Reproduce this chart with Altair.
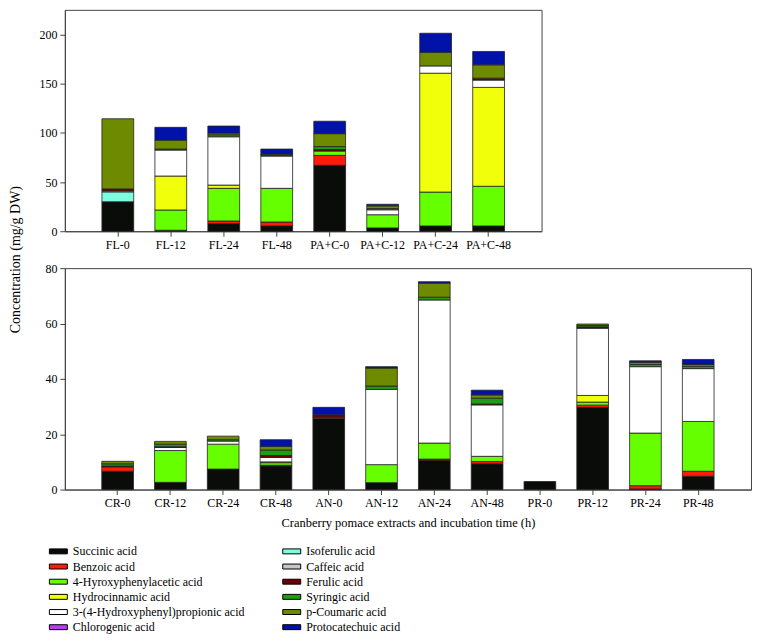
import altair as alt
import pandas as pd

acids = [
    "Succinic acid", "Benzoic acid", "4-Hyroxyphenylacetic acid", "Hydrocinnamic acid",
    "3-(4-Hydroxyphenyl)propionic acid", "Chlorogenic acid", "Isoferulic acid",
    "Caffeic acid", "Ferulic acid", "Syringic acid", "p-Coumaric acid", "Protocatechuic acid",
]
colors = ["#0a0c0a", "#ff1a0a", "#66ff00", "#f2ff0a", "#ffffff", "#b640f0",
          "#7dfce0", "#c3c8c8", "#6e0000", "#1e9e14", "#6e8a00", "#0012a8"]

top_samples = ["FL-0", "FL-12", "FL-24", "FL-48", "PA+C-0", "PA+C-12", "PA+C-24", "PA+C-48"]
# values per acid (stack order), one per top sample
top_succinic = [30, 1, 7.7, 5.4, 67, 3.4, 5.4, 5.4]
top_benzoic = [0, 0, 2.7, 4, 10.1, 0, 0, 0]
top_hpa = [0, 20.6, 33.2, 34.2, 4.4, 13.4, 34.4, 40.3]
top_hydro = [0, 34.5, 3.3, 0, 0, 0, 120.8, 100.5]
top_hpp = [0, 26.4, 49.1, 32.8, 0, 5.0, 7.4, 7.4]
top_chloro = [0, 0, 0, 0, 0, 0, 0, 0]
top_isoferulic = [10, 0, 0, 0, 0, 0, 0, 0]
top_caffeic = [1, 0, 0, 0, 0, 0, 0, 0]
top_ferulic = [2, 0, 0, 0, 1.5, 0, 0, 2]
top_syringic = [0, 1, 2, 1, 3, 1.2, 0, 0]
top_coumaric = [71.3, 9.1, 1.8, 1, 13.2, 2.8, 13.9, 13.5]
top_proto = [0, 13, 7.1, 5.1, 12.6, 1.6, 19.3, 13.6]

bottom_samples = ["CR-0", "CR-12", "CR-24", "CR-48", "AN-0", "AN-12", "AN-24", "AN-48",
                  "PR-0", "PR-12", "PR-24", "PR-48"]
bot_succinic = [6.6, 2.6, 7.4, 8.5, 25.8, 2.5, 10.5, 9.3, 2.9, 29.7, 0.2, 4.8]
bot_benzoic = [1.6, 0, 0, 0.3, 0.4, 0, 0.5, 0.8, 0, 0.8, 1.2, 1.8]
bot_hpa = [0, 11.5, 9.0, 0.9, 0, 6.5, 5.8, 1.9, 0, 1.1, 19.0, 18.0]
bot_hydro = [0, 0, 0, 0.3, 0, 0, 0, 0, 0, 2.4, 0, 0]
bot_hpp = [0, 1.1, 1.1, 1.6, 0, 27.2, 51.7, 18.6, 0, 24.3, 24.0, 19.1]
bot_chloro = [0] * 12
bot_isoferulic = [0] * 12
bot_caffeic = [0] * 12
bot_ferulic = [0.3, 0.3, 0, 0.7, 0.8, 0, 0, 0.3, 0, 0.5, 0, 0]
bot_syringic = [0.8, 0.9, 0.5, 2.0, 0, 1.2, 1.0, 2.1, 0, 0.5, 0.8, 0.8]
bot_coumaric = [0.9, 1.0, 1.3, 1.3, 0, 6.5, 5.1, 1.2, 0, 0.5, 0.8, 0.7]
bot_proto = [0, 0, 0, 2.4, 2.7, 0.5, 0.5, 1.7, 0, 0, 0.5, 1.8]

top_series = [top_succinic, top_benzoic, top_hpa, top_hydro, top_hpp, top_chloro,
              top_isoferulic, top_caffeic, top_ferulic, top_syringic, top_coumaric, top_proto]
bot_series = [bot_succinic, bot_benzoic, bot_hpa, bot_hydro, bot_hpp, bot_chloro,
              bot_isoferulic, bot_caffeic, bot_ferulic, bot_syringic, bot_coumaric, bot_proto]


def long_df(samples, series):
    rows = []
    for k, (acid, vals) in enumerate(zip(acids, series)):
        for s, v in zip(samples, vals):
            if v > 0:
                rows.append({"sample": s, "acid": acid, "value": v, "order": k})
    return pd.DataFrame(rows)


top_df = long_df(top_samples, top_series)
bot_df = long_df(bottom_samples, bot_series)

FONT = "Liberation Serif"

legend = alt.Legend(
    title=None, orient="none", legendX=-17, legendY=537, columns=2,
    columnPadding=35, rowPadding=3.2, direction="vertical",
    symbolType="M-1,-0.55L3,-0.55L3,0.55L-1,0.55Z", symbolSize=81,
    symbolStrokeColor="#000000", symbolStrokeWidth=1, symbolOpacity=1,
    labelOffset=13, labelFont=FONT, labelFontSize=12, labelColor="#000000",
    labelLimit=300,
)

color_enc = alt.Color("acid:N", scale=alt.Scale(domain=acids, range=colors), legend=legend)

axis_common = dict(labelFont=FONT, labelFontSize=12, labelColor="#000000",
                   domainColor="#444444", tickColor="#444444", tickSize=5,
                   grid=False, labelPadding=3)

top = alt.Chart(top_df).mark_bar(stroke="#222222", strokeWidth=0.8).encode(
    x=alt.X("sample:N", sort=top_samples,
            scale=alt.Scale(paddingInner=0.4, paddingOuter=0.7),
            axis=alt.Axis(title=None, labelAngle=0, **axis_common)),
    y=alt.Y("value:Q", stack="zero", scale=alt.Scale(domain=[0, 225], nice=False),
            axis=alt.Axis(title=None, values=[0, 50, 100, 150, 200], **axis_common)),
    color=color_enc,
    order=alt.Order("order:Q", sort="ascending"),
).properties(width=478, height=222)

bottom = alt.Chart(bot_df).mark_bar(stroke="#222222", strokeWidth=0.8).encode(
    x=alt.X("sample:N", sort=bottom_samples,
            scale=alt.Scale(paddingInner=0.4, paddingOuter=0.7),
            axis=alt.Axis(title="Cranberry pomace extracts and incubation time (h)",
                          labelAngle=0, titleFont=FONT, titleFontSize=12.5,
                          titleFontWeight="normal", titleColor="#000000",
                          titlePadding=8, **axis_common)),
    y=alt.Y("value:Q", stack="zero", scale=alt.Scale(domain=[0, 80], nice=False),
            axis=alt.Axis(title="Concentration (mg/g DW)", values=[0, 20, 40, 60, 80],
                          titleFont=FONT, titleFontSize=14, titleFontWeight="normal",
                          titleColor="#000000", titleX=-42, titleY=-9, titleAngle=270,
                          titleBaseline="bottom", titleAlign="center", **axis_common)),
    color=color_enc,
    order=alt.Order("order:Q", sort="ascending"),
).properties(width=688, height=222)

chart = alt.vconcat(top, bottom, spacing=37, bounds="flush").resolve_scale(
    x="independent", y="independent", color="shared"
).properties(
    padding={"left": 0, "top": 0, "right": 0, "bottom": 0}
).configure(
    background="white", font=FONT
).configure_view(
    stroke="#444444", strokeWidth=1
).configure_axis(
    labelFont=FONT, titleFont=FONT
).configure_legend(
    labelFont=FONT
)

chart.save("out.html", embed_options={"renderer": "svg", "actions": False})
